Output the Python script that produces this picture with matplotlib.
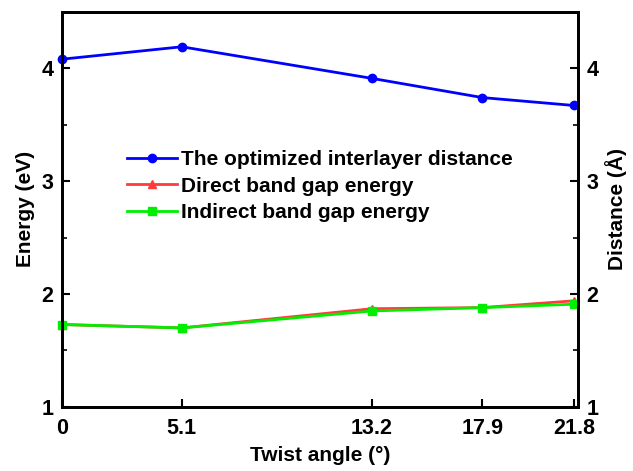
import matplotlib
matplotlib.use("Agg")
import matplotlib.pyplot as plt
from matplotlib.ticker import MultipleLocator

angles = [0, 5.1, 13.2, 17.9, 21.8]
angle_labels = ["0", "5.1", "13.2", "17.9", "21.8"]
distance = [4.08, 4.19, 3.91, 3.74, 3.67]
direct_gap = [1.73, 1.70, 1.87, 1.88, 1.94]
indirect_gap = [1.73, 1.70, 1.85, 1.88, 1.91]

plt.rcParams['font.family'] = ['Liberation Sans', 'DejaVu Sans']
plt.rcParams['font.weight'] = 'bold'

fig = plt.figure(figsize=(6.33, 4.71), dpi=100)
ax = fig.add_axes([0.098, 0.136, 0.815, 0.839])
ax2 = ax.twinx()

l2, = ax.plot(angles, direct_gap, color='#FF3B3B', marker='^', markersize=6, lw=2,
              label='Direct band gap energy', clip_on=False)
l3, = ax.plot(angles, indirect_gap, color='#00EE00', marker='s', markersize=6, lw=2,
              label='Indirect band gap energy', clip_on=False)
l1, = ax2.plot(angles, distance, color='#0000FF', marker='o', markersize=6, lw=2,
               label='The optimized interlayer distance', clip_on=False)

tick_font = {'family': ['Liberation Sans', 'DejaVu Sans'], 'weight': 'bold', 'size': 15.5}

for a in (ax, ax2):
    a.set_ylim(1, 4.5)
    a.set_yticks([1, 2, 3, 4])
    a.yaxis.set_minor_locator(MultipleLocator(0.5))
    for s in a.spines.values():
        s.set_linewidth(2)
    a.tick_params(which='major', direction='in', width=1.5, length=6)
    a.tick_params(axis='y', which='minor', direction='in', width=1.2, length=3.5)
    a.set_yticklabels(['1', '2', '3', '4'], fontdict=tick_font)

ax.set_xlim(0, 21.97)
ax.set_xticks(angles)
ax.set_xticklabels(angle_labels, fontdict=tick_font)
ax.tick_params(axis='x', pad=8)
ax.tick_params(axis='y', pad=6)
ax2.tick_params(axis='y', pad=6)
ax.set_xlabel('Twist angle (°)', fontsize=15, fontweight='bold', labelpad=5)
ax.set_ylabel('Energy (eV)', fontsize=15, fontweight='bold', labelpad=5)
ax2.set_ylabel('Distance (Å)', fontsize=15, fontweight='bold', labelpad=5)

ax2.legend(handles=[l1, l2, l3], loc='upper left', bbox_to_anchor=(0.089, 0.698),
           frameon=False, handlelength=2.4, labelspacing=0.37,
           handletextpad=0.2, prop={'weight': 'bold', 'size': 15})

fig.savefig('out.png', dpi=100)
